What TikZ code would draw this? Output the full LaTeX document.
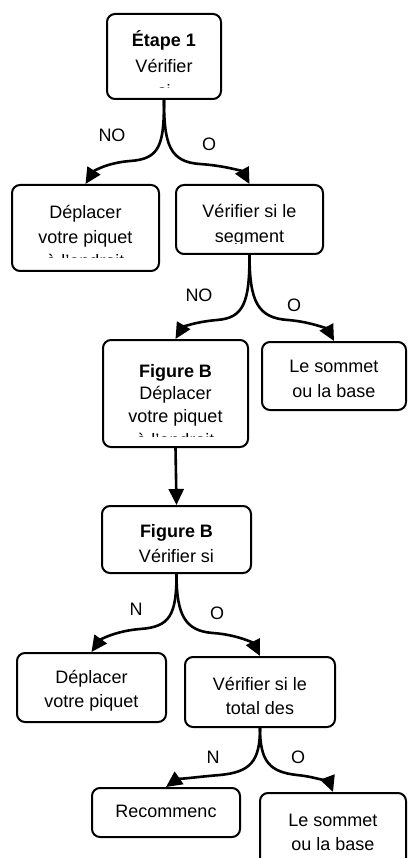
\documentclass[tikz,border=0pt]{standalone}
\usepackage{fontspec}
\setmainfont{Liberation Sans}
\usetikzlibrary{arrows.meta}
\begin{document}
\begin{tikzpicture}[x=1pt,y=-1pt,
  box/.style={draw, line width=2pt, rounded corners=8pt, inner sep=0pt},
  txt/.style={anchor=base, inner sep=0pt, font=\fontsize{18}{21}\selectfont},
  lbl/.style={anchor=center, inner sep=0pt, font=\fontsize{18}{21}\selectfont},
  arr/.style={line width=2.6pt, -{Triangle[length=16pt,width=15pt]}}]
\useasboundingbox (0,0) rectangle (407,858);
\begin{scope}
\clip (0,0) rectangle (407,858);
% boxes
\node[box, minimum width=114pt, minimum height=85pt] (b1) at (164,56.5) {};
\node[box, minimum width=147pt, minimum height=86pt] (b2) at (85.5,228) {};
\node[box, minimum width=147pt, minimum height=69pt] (b3) at (249.5,219.5) {};
\node[box, minimum width=145pt, minimum height=107pt] (b4) at (175.5,393.5) {};
\node[box, minimum width=144pt, minimum height=68pt] (b5) at (334,376) {};
\node[box, minimum width=149pt, minimum height=67pt] (b6) at (176.5,539.5) {};
\node[box, minimum width=149pt, minimum height=69pt] (b7) at (91.5,687.5) {};
\node[box, minimum width=150pt, minimum height=70pt] (b8) at (260,692) {};
\node[box, minimum width=148pt, minimum height=49pt] (b9) at (166,812.5) {};
\node[box, minimum width=146pt, minimum height=87pt] (b10) at (333,836.5) {};
% texts
\begin{scope}
\clip (110,17) rectangle (218,88);
\node[txt] (t1a) at (164,47) {\textbf{Étape 1}};
\node[txt] (t1b) at (164,73) {Vérifier};
\node[txt] (t1c) at (164,98) {si};
\end{scope}
\begin{scope}
\clip (15,188) rectangle (156,258);
\node[txt] (t2a) at (85.5,219) {Déplacer};
\node[txt] (t2b) at (85.5,244) {votre piquet};
\node[txt] (t2c) at (85.5,268) {à l'endroit};
\end{scope}
\begin{scope}
\clip (179,188) rectangle (320,243.5);
\node[txt] (t3a) at (249.5,218) {Vérifier si le};
\node[txt] (t3b) at (249.5,243) {segment};
\end{scope}
\begin{scope}
\clip (106,343) rectangle (245,436);
\node[txt] (t4a) at (175.5,377) {\textbf{Figure B}};
\node[txt] (t4b) at (175.5,399) {Déplacer};
\node[txt] (t4c) at (175.5,422) {votre piquet};
\node[txt] (t4d) at (175.5,446) {à l'endroit};
\end{scope}
\node[txt] (t5a) at (334,372) {Le sommet};
\node[txt] (t5b) at (334,397) {ou la base};
\begin{scope}
\clip (105,509) rectangle (248,563);
\node[txt] (t6a) at (176.5,537) {\textbf{Figure B}};
\node[txt] (t6b) at (176.5,562) {Vérifier si};
\end{scope}
\begin{scope}
\clip (20,656) rectangle (163,710);
\node[txt] (t7a) at (91.5,683) {Déplacer};
\node[txt] (t7b) at (91.5,707) {votre piquet};
\end{scope}
\node[txt] (t8a) at (260,690) {Vérifier si le};
\node[txt] (t8b) at (260,714) {total des};
\node[txt] (t9a) at (166,817) {Recommenc};
\node[txt] (t10a) at (333,826) {Le sommet};
\node[txt] (t10b) at (333,850) {ou la base};
% labels
\node[lbl] (l1) at (112,135) {NO};
\node[lbl] (l2) at (209,144) {O};
\node[lbl] (l3) at (199,295) {NO};
\node[lbl] (l4) at (294,305) {O};
\node[lbl] (l5) at (136,609) {N};
\node[lbl] (l6) at (217,613) {O};
\node[lbl] (l7) at (213,757) {N};
\node[lbl] (l8) at (298,757) {O};
% connectors
\draw[arr] (b1.south) .. controls (164,145) and (160,159) .. (130,161) .. controls (105,163) and (93,172) .. (b2.north);
\draw[arr] (b1.south) .. controls (164,145) and (170,162) .. (200,164) .. controls (228,166) and (243,172) .. (b3.north);
\draw[arr] (b3.south) .. controls (249.5,302) and (244,318) .. (217,320) .. controls (193,322) and (182,328) .. (b4.north);
\draw[arr] (b3.south) .. controls (249.5,302) and (258,318) .. (288,320) .. controls (313,322) and (328,330) .. (b5.north);
\draw[arr] (b4.south) -- (b6.north);
\draw[arr] (b6.south) .. controls (176.5,615) and (170,627) .. (140,629) .. controls (115,631) and (100,640) .. (b7.north);
\draw[arr] (b6.south) .. controls (176.5,615) and (185,631) .. (213,633) .. controls (240,635) and (254,644) .. (b8.north);
\draw[arr] (b8.south) .. controls (260,762) and (250,772) .. (220,775) .. controls (195,777) and (176,780) .. (b9.north);
\draw[arr] (b8.south) .. controls (260,762) and (270,772) .. (297,775) .. controls (318,777) and (330,784) .. (b10.north);
\end{scope}
\end{tikzpicture}
\end{document}
